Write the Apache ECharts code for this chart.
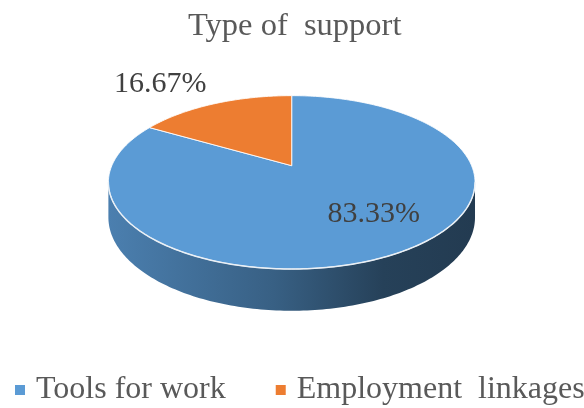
<!DOCTYPE html>
<html><head><meta charset="utf-8">
<script src="https://cdn.jsdelivr.net/npm/echarts@6/dist/echarts.min.js"></script>
<style>html,body{margin:0;padding:0;background:#fff}#c{width:584px;height:408px}</style>
</head><body><div id="c"></div>
<script>
const categories = ['Tools for work', 'Employment  linkages'];
const values = [83.33, 16.67];
const colors = ['#5B9BD5', '#ED7D31'];
const titleText = 'Type of  support';

const FONT = "'Liberation Serif','Times New Roman',serif";
// perspective layout of the 3D pie
const G = {cx: 291.7, cy: 165.7, A: 179.9, B: 83.5, k: 0.192, D: 33.7};
// label placement styles per slice
const labelStyle = [
  {r: 0.6, dx: 22, dy: 0, align: 'center'},
  {r: 1.0, dx: -8, dy: -20, align: 'right'}
];

const total = values.reduce((a, b) => a + b, 0);
const starts = []; let acc = 0;
values.forEach(v => { starts.push(acc / total * 360); acc += v; });

function proj(deg, r, h) {
  const t = deg * Math.PI / 180;
  const u = r * Math.sin(t), v = r * Math.cos(t), w = 1 + G.k * v;
  return [G.cx + G.A * u / w, G.cy - G.B * v / w + (h ? G.D / w : 0)];
}
function arc(a0, a1, r, h) {
  const pts = []; const n = Math.max(2, Math.ceil(Math.abs(a1 - a0)));
  for (let i = 0; i <= n; i++) pts.push(proj(a0 + (a1 - a0) * i / n, r, h));
  return pts;
}
function shade(hex, f) {
  const n = parseInt(hex.slice(1), 16);
  const r = Math.round(((n >> 16) & 255) * f), g = Math.round(((n >> 8) & 255) * f), b = Math.round((n & 255) * f);
  return 'rgb(' + r + ',' + g + ',' + b + ')';
}
const visA = Math.acos(-G.k) * 180 / Math.PI;
const visB = 360 - visA;

function makeRender(si) {
  return function (params, api) {
    const a0 = starts[si], a1 = a0 + values[si] / total * 360;
    const col = colors[si];
    const children = [];
    const s0 = Math.max(a0, visA), s1 = Math.min(a1, visB);
    if (s1 > s0) {
      const top = arc(s0, s1, 1, 0), bot = arc(s1, s0, 1, 1);
      children.push({
        type: 'polygon', shape: {points: top.concat(bot)},
        style: {fill: new echarts.graphic.LinearGradient(0, 0, 1, 0, [
          {offset: 0, color: shade(col, 0.82)},
          {offset: 0.45, color: shade(col, 0.62)},
          {offset: 0.75, color: shade(col, 0.42)},
          {offset: 1, color: shade(col, 0.38)}
        ])}
      });
    }
    children.push({
      type: 'polygon', shape: {points: [[G.cx, G.cy]].concat(arc(a0, a1, 1, 0))},
      style: {fill: col, stroke: 'rgba(255,255,255,0.85)', lineWidth: 1, lineJoin: 'round'}
    });
    if (s1 > s0) {
      children.push({type: 'polyline', shape: {points: arc(s0, s1, 1, 0)},
        style: {fill: null, stroke: 'rgba(235,240,245,0.95)', lineWidth: 1.5}});
    }
    const ls = labelStyle[si];
    const p = proj((a0 + a1) / 2, ls.r, 0);
    children.push({
      type: 'text', z2: 10,
      style: {text: (values[si] / total * 100).toFixed(2) + '%', x: p[0] + ls.dx, y: p[1] + ls.dy,
        fill: '#404040', font: '30px ' + FONT, align: ls.align, verticalAlign: 'middle'}
    });
    return {type: 'group', children: children};
  };
}

const chart = echarts.init(document.getElementById('c'));
chart.setOption({
  animation: false,
  backgroundColor: '#fff',
  title: {text: titleText, left: 188, top: 10, padding: 0,
    textStyle: {fontFamily: FONT, fontSize: 32.5, fontWeight: 'normal', color: '#595959'}},
  legend: {data: categories, left: 15, top: 374, width: 580, padding: 0, icon: 'rect',
    itemWidth: 10, itemHeight: 10, itemGap: 50,
    textStyle: {fontFamily: FONT, fontSize: 32, color: '#595959', padding: [0, 0, 0, 6]}},
  series: categories.map((name, i) => ({
    type: 'custom', name: name, coordinateSystem: 'none',
    itemStyle: {color: colors[i]},
    data: [[values[i]]],
    renderItem: makeRender(i)
  }))
});
</script></body></html>
